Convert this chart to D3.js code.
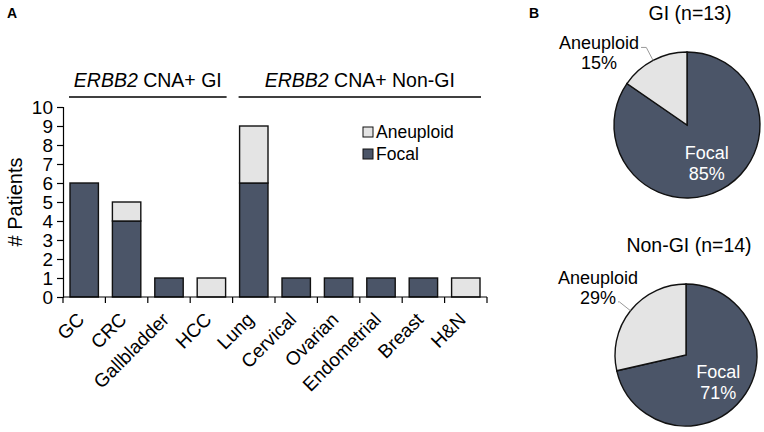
<!DOCTYPE html>
<html>
<head>
<meta charset="utf-8">
<script src="https://cdn.jsdelivr.net/npm/d3@7"></script>
<style>
  body { margin: 0; background: #fff; }
  svg { display: block; font-family: "Liberation Sans", Arial, sans-serif; }
</style>
</head>
<body>
<svg id="fig" width="764" height="432"></svg>
<script>
// bar panel data
const categories = ["GC", "CRC", "Gallbladder", "HCC", "Lung", "Cervical", "Ovarian", "Endometrial", "Breast", "H&N"]
const focal = [6, 4, 1, 0, 6, 1, 1, 1, 1, 0]
const aneuploid = [0, 1, 0, 1, 3, 0, 0, 0, 0, 1]
const yTicks = [0, 1, 2, 3, 4, 5, 6, 7, 8, 9, 10]
const groupNames = ["CNA+ GI", "CNA+ Non-GI"]
const groupFirst = ["GC", "Lung"]
const groupLast = ["HCC", "H&N"]
const seriesNames = ["Aneuploid", "Focal"]

// pie panel data
const pieTitles = ["GI (n=13)", "Non-GI (n=14)"]
const sliceNames = ["Focal", "Aneuploid"]
const giCounts = [11, 2]
const nonGiCounts = [10, 4]

const dark = "#4b5568"
const light = "#e4e4e4"
const fs = 19

const svg = d3.select("#fig")

// ---------- panel A ----------
const margin = { top: 107, right: 277, bottom: 135, left: 63 }
const x = d3.scaleBand()
    .domain(categories)
    .range([margin.left, 764 - margin.right])
    .paddingInner(0.33)
    .paddingOuter(0.165)
const y = d3.scaleLinear()
    .domain([0, 10])
    .range([432 - margin.bottom, margin.top])

svg.append("text")
    .attr("x", 7).attr("y", 18)
    .attr("font-size", 14).attr("font-weight", "bold")
    .text("A")

const rows = categories.map((c, i) => ({ cat: c, Focal: focal[i], Aneuploid: aneuploid[i] }))
const stacked = d3.stack().keys(["Focal", "Aneuploid"])(rows)

svg.append("g")
  .selectAll("g")
  .data(stacked)
  .join("g")
    .attr("fill", d => d.key == "Focal" ? dark : light)
  .selectAll("rect")
  .data(d => d.filter(p => p[1] > p[0]))
  .join("rect")
    .attr("x", d => x(d.data.cat))
    .attr("y", d => y(d[1]))
    .attr("width", x.bandwidth())
    .attr("height", d => y(d[0]) - y(d[1]))
    .attr("stroke", "#111")
    .attr("stroke-width", 1.4)

// y axis
const yAxis = svg.append("g")
    .attr("transform", `translate(${margin.left},0)`)
    .call(d3.axisLeft(y).tickValues(yTicks).tickSize(6).tickPadding(4))
yAxis.selectAll("text").attr("font-size", fs).attr("fill", "#000").attr("font-family", "Liberation Sans, Arial, sans-serif")
yAxis.selectAll("line, path").attr("stroke", "#000").attr("stroke-width", 1.2)

// x axis: ticks at category boundaries
const step = x.step()
const x0 = margin.left
const bounds = d3.range(categories.length + 1).map(i => x0 + i * step)
const xAxis = svg.append("g")
xAxis.append("line")
    .attr("x1", x0).attr("x2", bounds[bounds.length - 1])
    .attr("y1", y(0)).attr("y2", y(0))
    .attr("stroke", "#000").attr("stroke-width", 1.2)
xAxis.selectAll("line.tk")
  .data(bounds)
  .join("line")
    .attr("class", "tk")
    .attr("x1", d => d).attr("x2", d => d)
    .attr("y1", y(0)).attr("y2", y(0) + 6)
    .attr("stroke", "#000").attr("stroke-width", 1.2)
xAxis.selectAll("text")
  .data(categories)
  .join("text")
    .attr("transform", d => `translate(${x(d) + x.bandwidth() / 2 - 3.5},${y(0) + 19}) rotate(-45)`)
    .attr("text-anchor", "end")
    .attr("dy", "0.35em")
    .attr("font-size", fs)
    .text(d => d)

// y title
svg.append("text")
    .attr("transform", `translate(22,${(y(0) + y(10)) / 2}) rotate(-90)`)
    .attr("text-anchor", "middle")
    .attr("font-size", 20)
    .text("# Patients")

// group headers
groupNames.forEach((g, i) => {
    const a = x(groupFirst[i]) - 1
    const b = x(groupLast[i]) + x.bandwidth() + 1
    svg.append("line")
        .attr("x1", a).attr("x2", b)
        .attr("y1", 97).attr("y2", 97)
        .attr("stroke", "#000").attr("stroke-width", 1.3)
    const t = svg.append("text")
        .attr("x", (a + b) / 2).attr("y", 87)
        .attr("text-anchor", "middle")
        .attr("font-size", 19.5)
    t.append("tspan").attr("font-style", "italic").text("ERBB2")
    t.append("tspan").text(" " + g)
})

// legend
const legend = svg.append("g").attr("transform", "translate(363,127)")
seriesNames.forEach((s, i) => {
    legend.append("rect")
        .attr("x", 0).attr("y", i * 22)
        .attr("width", 10).attr("height", 10)
        .attr("fill", s == "Focal" ? dark : light)
        .attr("stroke", "#111").attr("stroke-width", 1)
    legend.append("text")
        .attr("x", 13).attr("y", i * 22 + 11)
        .attr("font-size", 17.5)
        .text(s)
})

// ---------- panel B ----------
svg.append("text")
    .attr("x", 529).attr("y", 18)
    .attr("font-size", 14).attr("font-weight", "bold")
    .text("B")

const pies = [
    { title: pieTitles[0], counts: giCounts, cx: 687, cy: 125, r: 73 },
    { title: pieTitles[1], counts: nonGiCounts, cx: 686, cy: 355, r: 71 }
]

const pieGen = d3.pie().sort(null).value(d => d)

pies.forEach(p => {
    const g = svg.append("g").attr("transform", `translate(${p.cx},${p.cy})`)
    const total = d3.sum(p.counts)
    const arcs = pieGen(p.counts)
    const arc = d3.arc().innerRadius(0).outerRadius(p.r)

    g.append("text")
        .attr("x", 3).attr("y", -p.r - 32)
        .attr("text-anchor", "middle")
        .attr("font-size", 19.5)
        .text(p.title)

    g.selectAll("path")
      .data(arcs)
      .join("path")
        .attr("d", arc)
        .attr("fill", (d, i) => i == 0 ? dark : light)
        .attr("stroke", "#111")
        .attr("stroke-width", 1.4)

    // inside label (Focal)
    const a0 = arcs[0]
    const inner = d3.arc().innerRadius(p.r * 0.58).outerRadius(p.r * 0.58).centroid(a0)
    const pct0 = Math.round(100 * p.counts[0] / total) + "%"
    const t0 = g.append("text")
        .attr("text-anchor", "middle")
        .attr("font-size", 18)
        .attr("fill", "#fff")
    t0.append("tspan").attr("x", inner[0]).attr("y", inner[1] - 3).text(sliceNames[0])
    t0.append("tspan").attr("x", inner[0]).attr("y", inner[1] + 18).text(pct0)

    // outside label (Aneuploid) with leader
    const a1 = arcs[1]
    const mid = (a1.startAngle + a1.endAngle) / 2
    const edge = [p.r * Math.sin(mid), -p.r * Math.cos(mid)]
    const elbow = [p.r * 1.2 * Math.sin(mid), -p.r * 1.2 * Math.cos(mid)]
    const pct1 = Math.round(100 * p.counts[1] / total) + "%"
    const useFirst = elbow[1] < -p.r * 0.9
    const base1 = useFirst ? elbow[1] + 2 : elbow[1] + 2 - 20
    const lx = -88
    const t1 = g.append("text")
        .attr("text-anchor", "middle")
        .attr("font-size", 18)
    const s1 = t1.append("tspan").attr("x", lx).attr("y", base1).text(sliceNames[1])
    const s2 = t1.append("tspan").attr("x", lx).attr("y", base1 + 20).text(pct1)
    const endX = lx + (useFirst ? s1 : s2).node().getComputedTextLength() / 2 + 2
    g.append("path")
        .attr("d", d3.line()([[endX, elbow[1]], [elbow[0], elbow[1]], edge]))
        .attr("fill", "none")
        .attr("stroke", "#999")
        .attr("stroke-width", 1)
})
</script>
</body>
</html>
